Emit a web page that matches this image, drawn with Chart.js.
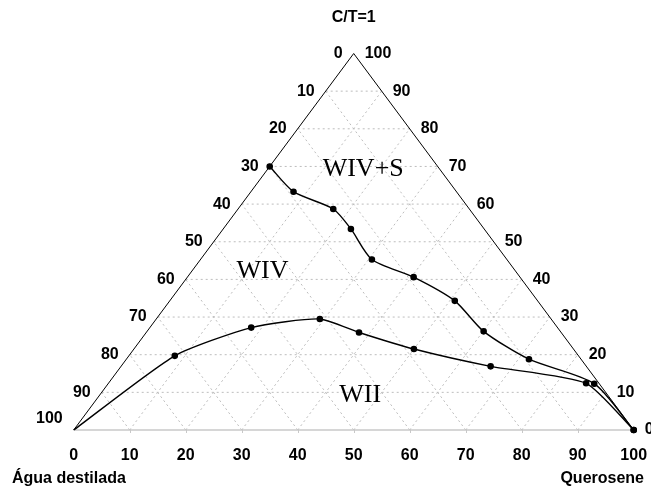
<!DOCTYPE html>
<html>
<head>
<meta charset="utf-8">
<script src="https://cdn.jsdelivr.net/npm/chart.js@4"></script>
<style>
  body { margin: 0; background: #fff; }
</style>
</head>
<body>
<canvas id="ternary" width="651" height="488"></canvas>
<script>
// ternary coordinates: c = C/T=1 (%), q = Querosene (%), water = rest
const gridSteps = [10, 20, 30, 40, 50, 60, 70, 80, 90];
const axisTicks = [0, 10, 20, 30, 40, 50, 60, 70, 80, 90, 100];

// upper boundary (WIV / WIV+S)
const upperC = [70, 63.3, 58.7, 53.4, 45.3, 40.6, 34.3, 26.2, 18.8, 12.3, 0];
const upperQ = [0, 7.6, 17.0, 22.8, 30.6, 40.4, 50.9, 60.1, 71.9, 86.8, 100];

// lower boundary (WIV / WII)
const lowerC = [0, 19.7, 27.2, 29.5, 25.9, 21.5, 16.9, 12.4, 0];
const lowerQ = [0, 8.2, 18.1, 29.2, 38.0, 50.0, 66.0, 85.3, 100];
const lowerDots = [false, true, true, true, true, true, true, true, true];

const regionNames = ["WIV+S", "WIV", "WII"];
const regionC = [69.4, 42.2, 9.3];
const regionQ = [17.0, 12.6, 46.5];

const toXY = (c, q) => ({ x: q + c / 2, y: c });

const curve = (cs, qs) => cs.map((c, i) => toXY(c, qs[i]));

const gridColor = "#bdbdbd";
const datasets = [];

datasets.push({
  data: curve(upperC, upperQ),
  borderColor: "#000", backgroundColor: "#000",
  borderWidth: 1.4, pointRadius: 2.6, tension: 0.25, showLine: true, clip: false
});
datasets.push({
  data: curve(lowerC, lowerQ),
  borderColor: "#000", backgroundColor: "#000",
  borderWidth: 1.4, pointRadius: lowerDots.map(d => d ? 2.6 : 0),
  tension: 0.2, showLine: true, clip: false
});

// triangle sides
datasets.push({
  data: [toXY(0, 0), toXY(100, 0), toXY(0, 100)],
  borderColor: "#000", borderWidth: 1, pointRadius: 0, showLine: true, clip: false
});
datasets.push({
  data: [toXY(0, 0), toXY(0, 100)],
  borderColor: "#c8c8c8", borderWidth: 1.5, pointRadius: 0, showLine: true, clip: false
});

// dotted grid
gridSteps.forEach(k => {
  const lines = [
    [toXY(k, 0), toXY(k, 100 - k)],            // constant C/T
    [toXY(0, k), toXY(100 - k, k)],            // constant querosene
    [toXY(0, 100 - k), toXY(100 - k, 0)]       // constant water
  ];
  lines.forEach(l => datasets.push({
    data: l, borderColor: gridColor, borderWidth: 1, borderDash: [2, 3],
    pointRadius: 0, showLine: true, clip: false
  }));
});

const labelsPlugin = {
  id: "ternaryLabels",
  afterDraw(chart) {
    const ctx = chart.ctx;
    const sx = chart.scales.x, sy = chart.scales.y;
    const px = (c, q) => sx.getPixelForValue(q + c / 2);
    const py = (c) => sy.getPixelForValue(c);

    ctx.save();
    // bottom ticks
    ctx.strokeStyle = "#c8c8c8";
    ctx.lineWidth = 1;
    axisTicks.slice(1, -1).forEach(q => {
      const x = Math.round(px(0, q)) + 0.5;
      ctx.beginPath();
      ctx.moveTo(x, py(0) - 1);
      ctx.lineTo(x, py(0) + 3);
      ctx.stroke();
    });

    ctx.fillStyle = "#000";
    ctx.font = "bold 16px 'Liberation Sans', Arial, sans-serif";
    ctx.textBaseline = "middle";

    // left side: 100 - C/T
    ctx.textAlign = "right";
    axisTicks.forEach(c => {
      const y = c === 0 ? py(c) - 11 : py(c);
      ctx.fillText(String(100 - c), px(c, 0) - 11, y);
    });
    // right side: C/T
    ctx.textAlign = "left";
    axisTicks.forEach(c => {
      ctx.fillText(String(c), px(c, 100 - c) + 11, py(c));
    });
    // bottom: querosene
    ctx.textAlign = "center";
    axisTicks.forEach(q => {
      ctx.fillText(String(q), px(0, q), py(0) + 26);
    });

    // vertex names
    ctx.fillText("C/T=1", px(100, 0), 18);
    ctx.textAlign = "left";
    ctx.fillText("Água destilada", 12, 479);
    ctx.textAlign = "right";
    ctx.fillText("Querosene", 644, 479);

    // regions
    ctx.font = "26px 'Liberation Serif', 'Times New Roman', serif";
    ctx.textAlign = "center";
    regionNames.forEach((n, i) => {
      ctx.fillText(n, px(regionC[i], regionQ[i]), py(regionC[i]));
    });
    ctx.restore();
  }
};

new Chart(document.getElementById("ternary"), {
  type: "scatter",
  data: { datasets },
  options: {
    responsive: false,
    animation: false,
    layout: { padding: { left: 73.7, right: 17.3, top: 53.5, bottom: 58 } },
    scales: {
      x: { type: "linear", min: 0, max: 100, display: false },
      y: { type: "linear", min: 0, max: 100, display: false }
    },
    plugins: {
      legend: { display: false },
      tooltip: { enabled: false }
    }
  },
  plugins: [labelsPlugin]
});
</script>
</body>
</html>
